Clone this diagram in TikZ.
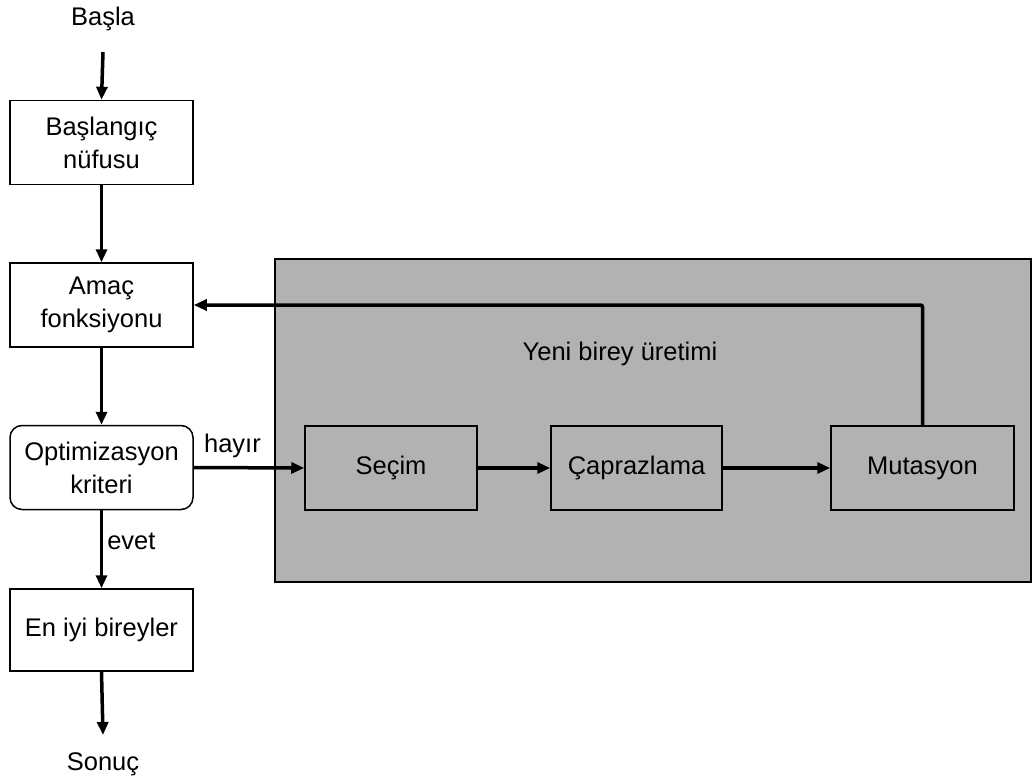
\documentclass[tikz,border=0pt]{standalone}
\usepackage{fontspec}
\setmainfont{Liberation Sans}
\usetikzlibrary{arrows.meta}
\definecolor{panelgray}{HTML}{B2B2B2}
\tikzset{
  box/.style={draw=black, line width=1.5pt, fill=white, minimum width=183pt, minimum height=84pt, align=center, inner sep=0pt, font=\fontsize{25.5}{33}\selectfont},
  gbox/.style={box, fill=panelgray},
  rbox/.style={box, rounded corners=12pt},
  lbl/.style={font=\fontsize{25.5}{33}\selectfont, inner sep=0pt},
  flow/.style={line width=3.5pt, -{Triangle[length=13pt,width=11pt]}},
}
\begin{document}
\begin{tikzpicture}[x=1pt,y=-1pt]
\useasboundingbox (0,0) rectangle (1034,781);
\fill[white] (0,0) rectangle (1034,781);
\draw[line width=1.5pt, fill=panelgray] (275,259) rectangle (1031,582);

\node[lbl] (start) at (103,19) {Başla};
\coordinate (startend) at (103,52);
\node[box] (init) at (101.5,142.5) {Başlangıç\\nüfusu};
\node[box] (obj) at (101.5,305) {Amaç\\fonksiyonu};
\node[rbox] (opt) at (101.5,467.5) {Optimizasyon\\kriteri};
\node[box, minimum height=82pt] (best) at (101.5,630) {En iyi bireyler};
\coordinate (endstart) at (103,735);
\node[lbl] (end) at (103,764) {Sonuç};

\node[gbox, minimum width=172pt] (sel) at (391,468) {Seçim};
\node[gbox, minimum width=171pt] (cross) at (636.5,468) {Çaprazlama};
\node[gbox] (mut) at (922.5,468) {Mutasyon};
\node[lbl] (gen) at (620,354) {Yeni birey üretimi};

\draw[flow] (startend) -- (init.north);
\draw[flow] (init.south) -- (obj.north);
\draw[flow] (obj.south) -- (opt.north);
\draw[flow] (opt.south) -- node[lbl, right=4pt, pos=0.4] (evet) {evet} (best.north);
\draw[flow] (best.south) -- (endstart);
\draw[flow] (opt.east) -- node[lbl, above=8pt, pos=0.35] (hayir) {hayır} (sel.west);
\draw[flow] (sel.east) -- (cross.west);
\draw[flow] (cross.east) -- (mut.west);
\draw[flow, rounded corners=2pt] (mut.north) |- (obj.east);
\end{tikzpicture}
\end{document}
